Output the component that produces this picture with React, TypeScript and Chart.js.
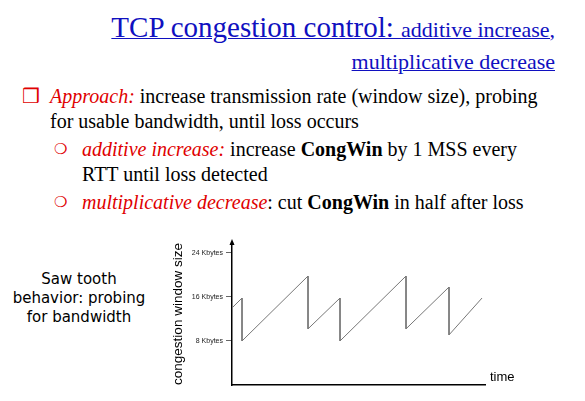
import React, { useEffect, useRef } from "react";
import { Chart, registerables } from "chart.js";

Chart.register(...registerables);

// time in arbitrary units, window size in Kbytes
const timeValues = [0, 10, 10, 76, 76, 108, 108, 174, 174, 217, 217, 250];
const windowValues = [14, 15.8, 8, 19.8, 10.2, 15.8, 8, 19.8, 10.2, 17.8, 9.1, 15.8];
const yTicks = [8, 16, 24];
const yTickLabels = ["8 Kbytes", "16 Kbytes", "24 Kbytes"];

const arrowPlugin = {
  id: "arrow",
  afterDraw(chart: any) {
    const { ctx, chartArea } = chart;
    ctx.save();
    ctx.fillStyle = "#000";
    ctx.beginPath();
    ctx.moveTo(chartArea.left, chartArea.top - 4);
    ctx.lineTo(chartArea.left - 2.5, chartArea.top + 2);
    ctx.lineTo(chartArea.left + 2.5, chartArea.top + 2);
    ctx.closePath();
    ctx.fill();
    ctx.restore();
  },
};

const SawTooth = () => {
  const ref = useRef<HTMLCanvasElement | null>(null);

  useEffect(() => {
    if (!ref.current) return;
    const chart = new Chart(ref.current, {
      type: "line",
      data: {
        datasets: [
          {
            data: timeValues.map((t, i) => ({ x: t, y: windowValues[i] })),
            borderColor: "#777",
            borderWidth: 1,
            pointRadius: 0,
            tension: 0,
          },
        ],
      },
      options: {
        animation: false,
        responsive: false,
        layout: { padding: { top: 8, right: 35, left: 10, bottom: 0 } },
        plugins: { legend: { display: false }, tooltip: { enabled: false } },
        scales: {
          x: {
            type: "linear",
            min: 0,
            max: 253,
            ticks: { display: false },
            grid: { display: false },
            border: { color: "#000", width: 1.5 },
            afterFit: (s: any) => {
              s.height = 10;
            },
          },
          y: {
            min: 0,
            max: 25.8,
            afterBuildTicks: (s: any) => {
              s.ticks = yTicks.map((v) => ({ value: v }));
            },
            ticks: {
              font: { family: "Arial", size: 7 },
              color: "#222",
              padding: 3,
              callback: (v: any) => yTickLabels[yTicks.indexOf(Number(v))] ?? "",
            },
            grid: { drawOnChartArea: false, tickLength: 6, color: "#666" },
            border: { color: "#000", width: 1.5 },
            title: {
              display: true,
              text: "congestion window size",
              font: { family: "Arial", size: 13.5 },
              color: "#000",
              padding: 0,
            },
            afterFit: (s: any) => {
              s.width = 62;
            },
          },
        },
      },
      plugins: [arrowPlugin],
    });
    return () => chart.destroy();
  }, []);

  return <canvas ref={ref} width={360} height={160} style={{ position: "absolute", left: 160, top: 235 }} />;
};

const red = { color: "#e00000", fontStyle: "italic" as const };

export default function App() {
  return (
    <div style={{ position: "fixed", left: 0, top: 0, width: 585, height: 401, background: "#fff", fontFamily: "'Liberation Serif', 'Times New Roman', serif", overflow: "hidden" }}>
      <div style={{ position: "absolute", right: 30, top: 12, textAlign: "right", color: "#1010c0", textDecoration: "underline", lineHeight: "30px" }}>
        <span style={{ fontSize: 29 }}>TCP congestion control: </span>
        <span style={{ fontSize: 22 }}>additive increase,</span>
        <br />
        <span style={{ fontSize: 22 }}>multiplicative decrease</span>
      </div>
      <div style={{ position: "absolute", left: 22, top: 84, fontSize: 20, lineHeight: "25px", width: 540 }}>
        <span style={{ color: "#e00000", position: "absolute", left: 0, top: 0 }}>❒</span>
        <div style={{ marginLeft: 28 }}>
          <span style={red}>Approach:</span> increase transmission rate (window size), probing for usable bandwidth, until loss occurs
        </div>
        <div style={{ position: "relative", marginLeft: 60, marginTop: 3, width: 440 }}>
          <span style={{ color: "#e00000", position: "absolute", left: -28, fontSize: 15 }}>❍</span>
          <span style={red}>additive increase:</span> increase <b>CongWin</b> by 1 MSS every RTT until loss detected
        </div>
        <div style={{ position: "relative", marginLeft: 60, marginTop: 3 }}>
          <span style={{ color: "#e00000", position: "absolute", left: -28, fontSize: 15 }}>❍</span>
          <span style={red}>multiplicative decrease</span>: cut <b>CongWin</b> in half after loss
        </div>
      </div>
      <div style={{ position: "absolute", left: 4, top: 270, width: 150, textAlign: "center", fontFamily: "'DejaVu Sans', sans-serif", fontSize: 15, lineHeight: "19px" }}>
        Saw tooth behavior: probing for bandwidth
      </div>
      <SawTooth />
      <div style={{ position: "absolute", left: 490, top: 369, fontFamily: "Arial, 'Liberation Sans'", fontSize: 13 }}>time</div>
    </div>
  );
}
